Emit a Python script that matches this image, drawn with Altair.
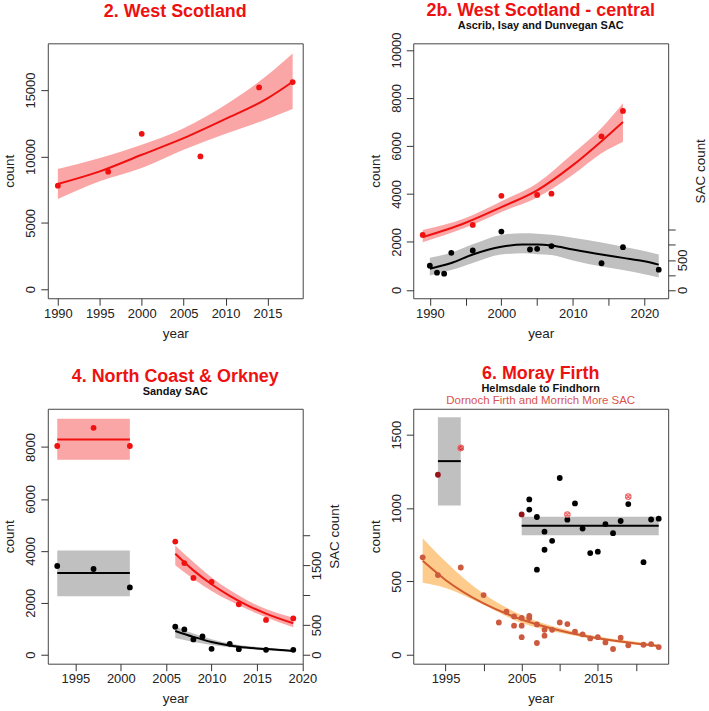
import altair as alt
import pandas as pd

FONT = "Liberation Sans"
RED = "#F01010"
TITLE_RED = "#EE1111"
PINK = "#FBA6A6"
GREY = "#C0C0C0"
ORANGE_PT = "#CC5A3E"
ORANGE_LINE = "#D25B30"
ORANGE_BAND = "#FDCB8C"

# ---------------- Panel 1: 2. West Scotland ----------------
ws_years = [1990, 1996, 2000, 2007, 2014, 2018]
ws_counts = [7800, 8850, 11700, 10000, 15200, 15600]
ws_fit_years = [1990, 1995, 2000, 2005, 2010, 2015, 2018]
ws_fit = [7925, 8875, 10125, 11375, 12825, 14375, 15625]
ws_lo = [6800, 8125, 9125, 10500, 11700, 12825, 13575]
ws_hi = [9050, 9875, 10875, 12125, 13900, 16125, 17750]

# ---------------- Panel 2: 2b. West Scotland - central ----------------
wsc_years = [1989, 1996, 2000, 2005, 2007, 2014, 2017]
wsc_counts = [2290, 2710, 3920, 3960, 4010, 6400, 7460]
wsc_fit_years = [1989, 1995, 2000, 2005, 2010, 2014, 2017]
wsc_fit = [2200, 2800, 3450, 4150, 5200, 6200, 7000]
wsc_lo = [1990, 2600, 3250, 3850, 4800, 5700, 6180]
wsc_hi = [2500, 3000, 3700, 4450, 5690, 6750, 7780]

sac2_years = [1990, 1991, 1992, 1993, 1996, 2000, 2004, 2005, 2007, 2014, 2017, 2022]
sac2_counts = [404, 287, 270, 618, 657, 972, 674, 685, 730, 444, 713, 337]
sac2_fit_years = [1990, 1993, 1996, 2000, 2003, 2005, 2007, 2010, 2014, 2017, 2020, 2022]
sac2_fit = [354, 449, 590, 719, 758, 758, 742, 674, 590, 534, 478, 421]
sac2_lo = [242, 330, 450, 590, 610, 595, 580, 490, 390, 330, 260, 208]
sac2_hi = [534, 620, 760, 916, 945, 938, 920, 871, 790, 720, 650, 590]

# ---------------- Panel 3: 4. North Coast & Orkney ----------------
nco_years = [1993, 1997, 2001, 2006, 2007, 2008, 2010, 2013, 2016, 2019]
nco_counts = [8040, 8740, 8040, 4360, 3530, 2960, 2810, 1940, 1340, 1400]
nco_fit_seg = ["a", "a", "b", "b", "b", "b", "b", "b", "b"]
nco_fit_years = [1993, 2001, 2006, 2008, 2010, 2012, 2014, 2016, 2019]
nco_fit = [8290, 8290, 3890, 3250, 2715, 2270, 1895, 1585, 1212]
nco_lo = [7510, 7510, 3444, 2920, 2460, 2080, 1740, 1440, 1060]
nco_hi = [9090, 9090, 4210, 3570, 2980, 2490, 2080, 1760, 1430]

sac3_years = [1993, 1997, 2001, 2006, 2007, 2008, 2009, 2010, 2012, 2013, 2016, 2019]
sac3_counts = [1490, 1440, 1130, 470, 425, 258, 308, 100, 183, 94, 83, 83]
sac3_fit_seg = ["a", "a", "b", "b", "b", "b", "b", "b"]
sac3_fit_years = [1993, 2001, 2006, 2008, 2010, 2013, 2016, 2019]
sac3_fit = [1372, 1372, 400, 300, 215, 135, 95, 65]
sac3_lo = [983, 983, 280, 215, 165, 110, 75, 45]
sac3_hi = [1750, 1750, 480, 355, 260, 165, 118, 80]

# ---------------- Panel 4: 6. Moray Firth ----------------
mf_years = [2006, 2006, 2007, 2007, 2008, 2008, 2009, 2010, 2011, 2012, 2013,
            2014, 2015, 2016, 2017, 2018, 2019, 2021, 2022, 2023]
mf_counts = [1059, 990, 939, 580, 839, 716, 777, 1205, 921, 1032, 860,
             693, 703, 891, 829, 912, 1027, 631, 922, 928]
mf_dark_years = [1994, 1997, 2005]
mf_dark_counts = [1227, 1407, 957]
mf_flag_years = [1997, 2011, 2019]
mf_flag_counts = [1410, 956, 1078]
mf_fit_seg = ["a", "a", "b", "b"]
mf_fit_years = [1994, 1997, 2005, 2023]
mf_fit = [1320, 1320, 880, 880]
mf_lo = [1018, 1018, 814, 814]
mf_hi = [1620, 1620, 941, 941]

df_years = [1992, 1994, 1997, 2000, 2002, 2003, 2004, 2004, 2005, 2005, 2005, 2006,
            2006, 2007, 2007, 2008, 2008, 2009, 2010, 2011, 2012, 2013, 2014, 2015,
            2016, 2017, 2018, 2019, 2021, 2022, 2023]
df_counts = [664, 543, 595, 407, 220, 293, 261, 198, 252, 198, 120, 264,
             250, 207, 80, 170, 130, 170, 220, 209, 157, 139, 111, 120,
             84, 39, 116, 64, 68, 73, 52]
df_fit_years = [1992, 1995, 2000, 2005, 2010, 2015, 2020, 2023]
df_fit = [640, 510, 350, 240, 165, 112, 77, 60]
df_lo = [490, 455, 340, 216, 150, 102, 68, 52]
df_hi = [795, 636, 415, 270, 182, 124, 88, 70]

W = 256
H = 256
PT = 34


def xenc(dom, ticks, labels):
    expr = "indexof([" + ",".join(str(v) for v in labels) + "], datum.value) >= 0 ? datum.label : ''"
    return alt.X("year:Q", scale=alt.Scale(domain=dom, nice=False, zero=False),
                 axis=alt.Axis(values=ticks, labelExpr=expr, format="d", title="year",
                               orient="bottom", tickSize=7, domain=False, grid=False,
                               tickColor="#333", labelColor="#222", titleColor="#222",
                               labelFont=FONT, titleFont=FONT, labelFontSize=13,
                               titleFontSize=13.5, titleFontWeight="normal",
                               labelPadding=2, titlePadding=6, labelFlush=False,
                               labelOverlap=False))


def yaxis(ticks, labels, orient, title):
    expr = "indexof([" + ",".join(str(v) for v in labels) + "], datum.value) >= 0 ? datum.label : ''"
    if orient == "left":
        return alt.Axis(values=ticks, labelExpr=expr, format="d", title=title, orient="left",
                        tickSize=7, domain=False, grid=False, tickColor="#333",
                        labelColor="#222", titleColor="#222", labelFont=FONT, titleFont=FONT,
                        labelFontSize=13, titleFontSize=13.5, titleFontWeight="normal",
                        labelAngle=-90, labelAlign="center", labelBaseline="alphabetic",
                        labelPadding=6, titlePadding=8, titleAngle=270, labelOverlap=False,
                        labelFlush=False)
    return alt.Axis(values=ticks, labelExpr=expr, format="d", title=title, orient="right",
                    tickSize=7, domain=False, grid=False, tickColor="#333",
                    labelColor="#222", titleColor="#222", labelFont=FONT, titleFont=FONT,
                    labelFontSize=13, titleFontSize=13.5, titleFontWeight="normal",
                    labelAngle=-90, labelAlign="center", labelBaseline="top",
                    labelPadding=1, titlePadding=4, titleAngle=270, titleBaseline="top",
                    labelOverlap=False, labelFlush=False)


def ysc(dom):
    return alt.Scale(domain=dom, nice=False, zero=False)


def series_layers(x, dom, ax, years, vals, fit_years, fit, lo, hi, seg,
                  pt_color, line_color, band_color, pt_size=PT):
    fdf = pd.DataFrame({"year": fit_years, "fit": fit, "lo": lo, "hi": hi,
                        "seg": seg if seg is not None else ["a"] * len(fit_years)})
    pdf = pd.DataFrame({"year": years, "count": vals})
    band = alt.Chart(fdf).mark_area(color=band_color, opacity=1, interpolate="monotone").encode(
        x=x, y=alt.Y("lo:Q", scale=ysc(dom), axis=ax), y2="hi:Q", detail="seg:N")
    line = alt.Chart(fdf).mark_line(color=line_color, strokeWidth=2, interpolate="monotone").encode(
        x=x, y=alt.Y("fit:Q", scale=ysc(dom), axis=ax), detail="seg:N")
    pts = alt.Chart(pdf).mark_circle(color=pt_color, size=pt_size, opacity=1).encode(
        x=x, y=alt.Y("count:Q", scale=ysc(dom), axis=ax))
    return band, line, pts


def text_layer(txt, y, size, color, weight="bold"):
    return alt.Chart(pd.DataFrame({"t": [txt]})).mark_text(
        font=FONT, fontSize=size, fontWeight=weight, color=color, align="center",
        baseline="alphabetic").encode(text="t:N", x=alt.value(W / 2), y=alt.value(y))


# ---- Panel 1
x1 = xenc([1988.8, 2019.2], [1990, 1995, 2000, 2005, 2010, 2015],
          [1990, 1995, 2000, 2005, 2010, 2015])
ax1 = yaxis([0, 5000, 10000, 15000], [0, 5000, 10000, 15000], "left", "count")
b, l, p = series_layers(x1, [-680, 18520], ax1, ws_years, ws_counts, ws_fit_years, ws_fit,
                        ws_lo, ws_hi, None, RED, RED, PINK)
p1 = alt.layer(b, l, p, text_layer("2. West Scotland", -26, 18, TITLE_RED)).properties(
    width=W, height=H)

# ---- Panel 2
x2 = xenc([1987.68, 2023.32], [1990, 1995, 2000, 2005, 2010, 2015, 2020],
          [1990, 2000, 2010, 2020])
ax2 = yaxis([0, 2000, 4000, 6000, 8000, 10000], [0, 2000, 4000, 6000, 8000, 10000], "left", "count")
ax2r = yaxis([0, 250, 500, 750, 1000], [0, 500], "right", "SAC count")
b, l, p = series_layers(x2, [-347, 10278], ax2, wsc_years, wsc_counts, wsc_fit_years, wsc_fit,
                        wsc_lo, wsc_hi, None, RED, RED, PINK)
bk, lk, pk = series_layers(x2, [-139, 4111], ax2r, sac2_years, sac2_counts, sac2_fit_years,
                           sac2_fit, sac2_lo, sac2_hi, None, "black", "black", GREY)
left2 = alt.layer(b, l, p, text_layer("2b. West Scotland - central", -27, 18, TITLE_RED),
                  text_layer("Ascrib, Isay and Dunvegan SAC", -14, 11, "#111"))
right2 = alt.layer(bk, lk, pk)
p2 = alt.layer(left2, right2).resolve_scale(y="independent").properties(width=W, height=H)

# ---- Panel 3
x3 = xenc([1991.96, 2020.04], [1995, 2000, 2005, 2010, 2015, 2020],
          [1995, 2000, 2005, 2010, 2015, 2020])
ax3 = yaxis([0, 2000, 4000, 6000, 8000], [0, 2000, 4000, 6000, 8000], "left", "count")
ax3r = yaxis([0, 500, 1000, 1500, 2000], [0, 500, 1500], "right", "SAC count")
b, l, p = series_layers(x3, [-345, 9475], ax3, nco_years, nco_counts, nco_fit_years, nco_fit,
                        nco_lo, nco_hi, nco_fit_seg, RED, RED, PINK)
bk, lk, pk = series_layers(x3, [-150, 4130], ax3r, sac3_years, sac3_counts, sac3_fit_years,
                           sac3_fit, sac3_lo, sac3_hi, sac3_fit_seg, "black", "black", GREY)
left3 = alt.layer(b, l, p, text_layer("4. North Coast & Orkney", -27, 18, TITLE_RED),
                  text_layer("Sanday SAC", -13.5, 11, "#111"))
right3 = alt.layer(bk, lk, pk)
p3 = alt.layer(left3, right3).resolve_scale(y="independent").properties(width=W, height=H)

# ---- Panel 4
x4 = xenc([1990.76, 2024.24], [1995, 2000, 2005, 2010, 2015, 2020], [1995, 2005, 2015])
ax4 = yaxis([0, 500, 1000, 1500], [0, 500, 1000, 1500], "left", "count")
dom4 = [-61, 1677]
bg, lg, pg = series_layers(x4, dom4, ax4, mf_years, mf_counts, mf_fit_years, mf_fit,
                           mf_lo, mf_hi, mf_fit_seg, "black", "black", GREY)
bo, lo_, po = series_layers(x4, dom4, ax4, df_years, df_counts, df_fit_years, df_fit,
                            df_lo, df_hi, None, ORANGE_PT, ORANGE_LINE, ORANGE_BAND)
dark = alt.Chart(pd.DataFrame({"year": mf_dark_years, "count": mf_dark_counts})).mark_circle(
    color="#96151A", size=PT, opacity=1).encode(
    x=x4, y=alt.Y("count:Q", scale=ysc(dom4), axis=ax4))
OTIMES = "M-1,0A1,1,0,1,0,1,0A1,1,0,1,0,-1,0M-0.7,-0.7L0.7,0.7M-0.7,0.7L0.7,-0.7"
flags = alt.Chart(pd.DataFrame({"year": mf_flag_years, "count": mf_flag_counts})).mark_point(
    shape=OTIMES, filled=False, stroke="#EE6A6A", strokeWidth=1.2, size=30, opacity=1).encode(
    x=x4, y=alt.Y("count:Q", scale=ysc(dom4), axis=ax4))
p4 = alt.layer(bg, bo, lg, lo_, po, pg, dark, flags,
               text_layer("6. Moray Firth", -29.5, 18, TITLE_RED),
               text_layer("Helmsdale to Findhorn", -16.5, 11, "#111"),
               text_layer("Dornoch Firth and Morrich More SAC", -4.5, 11.5, "#D9534A", "normal")
               ).properties(width=W, height=H)

chart = alt.concat(p1, p2, p3, p4, columns=2).properties(
    spacing=111, bounds="flush", padding={"left": 2, "top": 0, "right": 2, "bottom": 2},
    background="white"
).configure_view(stroke="#444", strokeWidth=1)

chart.save("out.html", embed_options={"renderer": "svg", "actions": False})
